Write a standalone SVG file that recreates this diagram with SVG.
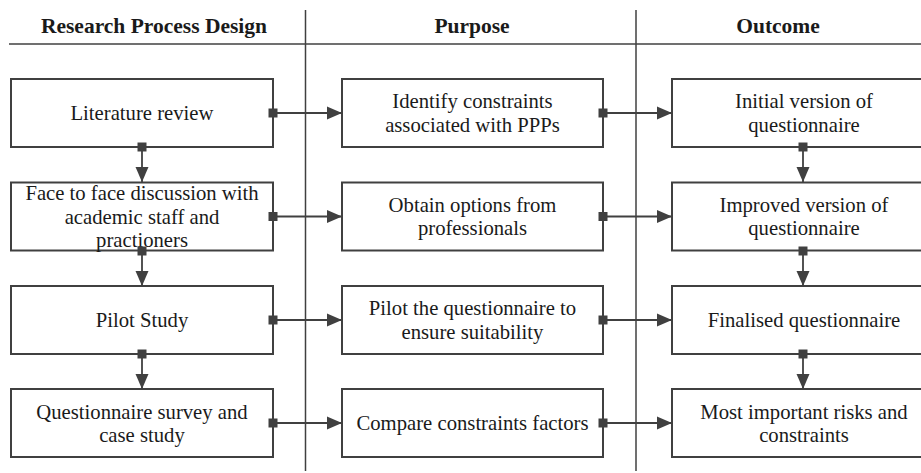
<svg xmlns="http://www.w3.org/2000/svg" width="921" height="473" viewBox="0 0 921 473">
<style>
.bg{fill:#fff}
.rule{stroke:#404040;stroke-width:1.5;fill:none}
.box{fill:#fff;stroke:#404040;stroke-width:2}
.t{font-family:"Liberation Serif","Times New Roman",serif;font-size:20.7px;fill:#1a1a1a;text-anchor:middle}
.h{font-family:"Liberation Serif","Times New Roman",serif;font-size:21.5px;font-weight:bold;fill:#1a1a1a;text-anchor:middle}
.c{stroke:#404040;stroke-width:1.8;fill:none;marker-start:url(#sq);marker-end:url(#ar)}
</style>
<defs>
<marker id="sq" markerUnits="userSpaceOnUse" markerWidth="9" markerHeight="9" refX="4.5" refY="4.5" orient="auto" overflow="visible"><rect x="0" y="0" width="9" height="9" fill="#404040"/></marker>
<marker id="ar" markerUnits="userSpaceOnUse" markerWidth="15" markerHeight="13" refX="15" refY="6.5" orient="auto" overflow="visible"><path d="M0,0 L15,6.5 L0,13 Z" fill="#404040"/></marker>
</defs>
<rect class="bg" x="0" y="0" width="921" height="473"/>
<g id="frame">
<line class="rule" x1="9" y1="44" x2="921" y2="44"/>
<line class="rule" x1="305.5" y1="10" x2="305.5" y2="471"/>
<line class="rule" x1="636" y1="10" x2="636" y2="471"/>
<text class="h" x="154" y="33">Research Process Design</text>
<text class="h" x="472" y="33">Purpose</text>
<text class="h" x="778" y="33">Outcome</text>
</g>
<g id="literature-review">
<rect class="box" x="11" y="79" width="262" height="68"/>
<text class="t" x="142" y="120">Literature review</text>
</g>
<g id="face-to-face">
<rect class="box" x="11" y="182.5" width="262" height="68"/>
<text class="t" x="142" y="200">Face to face discussion with</text>
<text class="t" x="142" y="223.5">academic staff and</text>
<text class="t" x="142" y="247">practioners</text>
</g>
<g id="pilot-study">
<rect class="box" x="11" y="286" width="262" height="68"/>
<text class="t" x="142" y="327">Pilot Study</text>
</g>
<g id="questionnaire-survey">
<rect class="box" x="11" y="389" width="262" height="68"/>
<text class="t" x="142" y="418.5">Questionnaire survey and</text>
<text class="t" x="142" y="442">case study</text>
</g>
<g id="identify-constraints">
<rect class="box" x="342" y="79" width="261" height="68"/>
<text class="t" x="472.5" y="108">Identify constraints</text>
<text class="t" x="472.5" y="131.5">associated with PPPs</text>
</g>
<g id="obtain-options">
<rect class="box" x="342" y="182.5" width="261" height="68"/>
<text class="t" x="472.5" y="211.5">Obtain options from</text>
<text class="t" x="472.5" y="235">professionals</text>
</g>
<g id="pilot-questionnaire">
<rect class="box" x="342" y="286" width="261" height="68"/>
<text class="t" x="472.5" y="315">Pilot the questionnaire to</text>
<text class="t" x="472.5" y="338.5">ensure suitability</text>
</g>
<g id="compare-constraints">
<rect class="box" x="342" y="389" width="261" height="68"/>
<text class="t" x="472.5" y="430">Compare constraints factors</text>
</g>
<g id="initial-version">
<rect class="box" x="672" y="79" width="264" height="68"/>
<text class="t" x="804" y="108">Initial version of</text>
<text class="t" x="804" y="131.5">questionnaire</text>
</g>
<g id="improved-version">
<rect class="box" x="672" y="182.5" width="264" height="68"/>
<text class="t" x="804" y="211.5">Improved version of</text>
<text class="t" x="804" y="235">questionnaire</text>
</g>
<g id="finalised-questionnaire">
<rect class="box" x="672" y="286" width="264" height="68"/>
<text class="t" x="804" y="327">Finalised questionnaire</text>
</g>
<g id="most-important-risks">
<rect class="box" x="672" y="389" width="264" height="68"/>
<text class="t" x="804" y="418.5">Most important risks and</text>
<text class="t" x="804" y="442">constraints</text>
</g>
<g id="connectors">
<line class="c" x1="142" y1="147" x2="142" y2="182"/>
<line class="c" x1="142" y1="251" x2="142" y2="286"/>
<line class="c" x1="142" y1="354" x2="142" y2="389"/>
<line class="c" x1="803" y1="147" x2="803" y2="182"/>
<line class="c" x1="803" y1="251" x2="803" y2="286"/>
<line class="c" x1="803" y1="354" x2="803" y2="389"/>
<line class="c" x1="273" y1="113" x2="342" y2="113"/>
<line class="c" x1="273" y1="216.5" x2="342" y2="216.5"/>
<line class="c" x1="273" y1="320" x2="342" y2="320"/>
<line class="c" x1="273" y1="423" x2="342" y2="423"/>
<line class="c" x1="603" y1="113" x2="672" y2="113"/>
<line class="c" x1="603" y1="216.5" x2="672" y2="216.5"/>
<line class="c" x1="603" y1="320" x2="672" y2="320"/>
<line class="c" x1="603" y1="423" x2="672" y2="423"/>
</g>
</svg>
